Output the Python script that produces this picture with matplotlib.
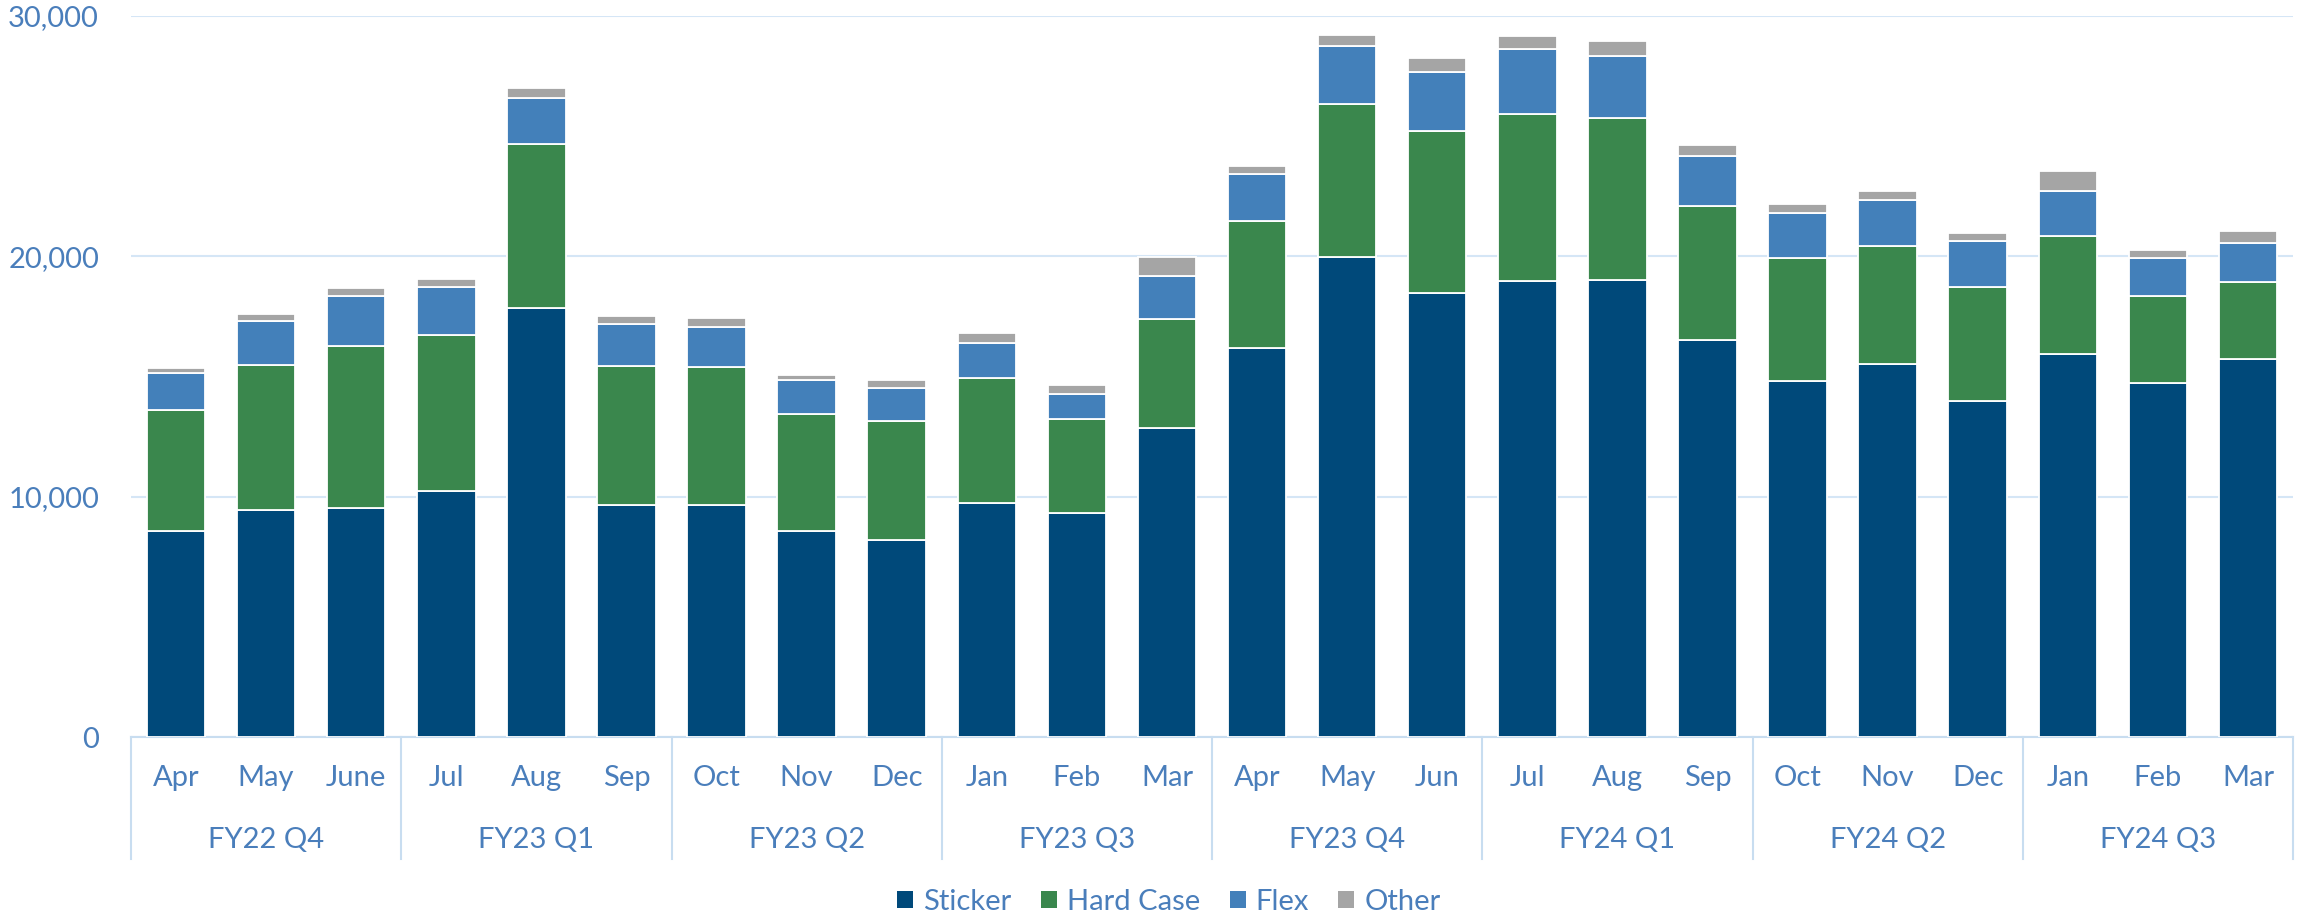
import matplotlib
matplotlib.use("Agg")
import matplotlib.pyplot as plt
import matplotlib.transforms as mtransforms
from matplotlib.patches import Patch
from matplotlib.ticker import FuncFormatter
import numpy as np

months = ["Apr", "May", "June", "Jul", "Aug", "Sep", "Oct", "Nov", "Dec", "Jan", "Feb", "Mar",
          "Apr", "May", "Jun", "Jul", "Aug", "Sep", "Oct", "Nov", "Dec", "Jan", "Feb", "Mar"]
quarters = ["FY22 Q4", "FY23 Q1", "FY23 Q2", "FY23 Q3", "FY23 Q4", "FY24 Q1", "FY24 Q2", "FY24 Q3"]

sticker = [8565, 9455, 9515, 10240, 17860, 9640, 9640, 8570, 8180, 9720, 9310, 12850,
           16180, 19960, 18460, 18970, 19030, 16530, 14810, 15540, 14000, 15920, 14710, 15740]
hard_case = [5050, 6040, 6770, 6490, 6810, 5780, 5760, 4890, 4950, 5230, 3940, 4560,
             5270, 6380, 6770, 6950, 6730, 5560, 5110, 4870, 4710, 4910, 3620, 3210]
flex = [1535, 1800, 2060, 1980, 1920, 1760, 1660, 1410, 1390, 1450, 1030, 1780,
        1960, 2430, 2420, 2710, 2570, 2080, 1900, 1920, 1920, 1880, 1580, 1600]
other = [220, 300, 320, 340, 400, 340, 360, 200, 340, 400, 380, 790,
         340, 440, 590, 520, 630, 480, 360, 380, 340, 850, 340, 520]

series_names = ["Sticker", "Hard Case", "Flex", "Other"]
series_colors = ["#00497A", "#3A874D", "#4380BA", "#A5A5A5"]

plt.rcParams['font.family'] = ['Lato', 'DejaVu Sans']
text_color = "#4A7EBB"
grid_color = "#D5E6F6"
axis_color = "#C8DDF0"
fs = 21

W, H = 2310, 914
fig = plt.figure(figsize=(W / 100, H / 100), dpi=100)
left, right, top, bottom = 131, 2293, 16, 737
ax = fig.add_axes([left / W, 1 - bottom / H, (right - left) / W, (bottom - top) / H])

x = np.arange(len(months))
base = np.zeros(len(months))
for vals, name, col in zip([sticker, hard_case, flex, other], series_names, series_colors):
    v = np.array(vals, dtype=float)
    ax.bar(x, v, bottom=base, width=0.65, color=col, edgecolor="white", linewidth=1.3,
           label=name, zorder=3)
    base += v

ax.set_xlim(-0.5, len(months) - 0.5)
ax.set_ylim(0, 30000)
ax.set_yticks([0, 10000, 20000, 30000])
ax.yaxis.set_major_formatter(FuncFormatter(lambda v, p: f"{int(v):,}"))
ax.tick_params(axis='y', length=0, pad=23, labelsize=fs, labelcolor=text_color)
ax.set_xticks([])
ax.grid(axis='y', color=grid_color, linewidth=1.5, zorder=0)
for s in ["top", "right", "left"]:
    ax.spines[s].set_visible(False)
ax.spines["bottom"].set_color(axis_color)
ax.spines["bottom"].set_linewidth(1.5)

axh = bottom - top
trans = mtransforms.blended_transform_factory(ax.transData, ax.transAxes)
month_y = (bottom - 778) / axh
quarter_y = (bottom - 840) / axh
line_y = (bottom - 859) / axh

for i, m in enumerate(months):
    ax.text(i, month_y, m, transform=trans, ha="center", va="center",
            fontsize=fs, color=text_color, clip_on=False)
for q, name in enumerate(quarters):
    ax.text(3 * q + 1, quarter_y, name, transform=trans, ha="center", va="center",
            fontsize=fs, color=text_color, clip_on=False)
for b in range(len(quarters) + 1):
    xb = 3 * b - 0.5
    ax.plot([xb, xb], [0, line_y], transform=trans, color=axis_color, linewidth=1.5,
            clip_on=False)

handles = [Patch(facecolor=c, edgecolor="none", label=n) for n, c in zip(series_names, series_colors)]
fig.legend(handles=handles, loc="center", bbox_to_anchor=(1169 / W, 1 - 902 / H), ncol=4,
           frameon=False, fontsize=fs, labelcolor=text_color, handlelength=0.55,
           handleheight=0.55, handletextpad=0.35, columnspacing=1.0)

fig.savefig("out.png", dpi=100, facecolor="white")
